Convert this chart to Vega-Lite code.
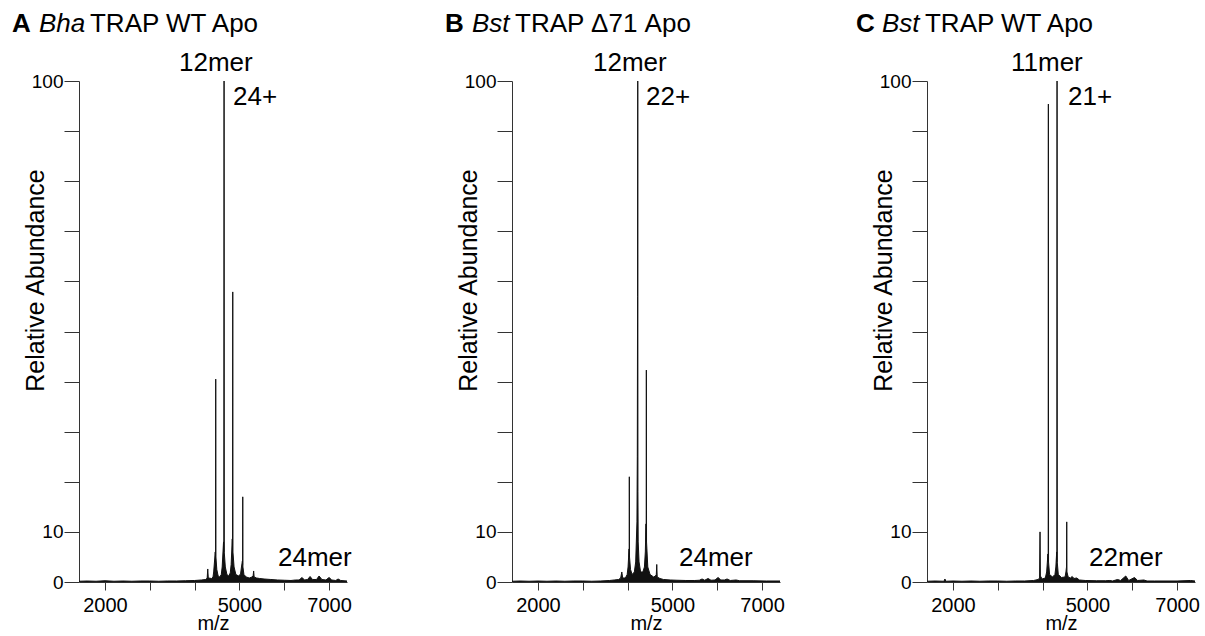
{
  "$schema": "https://vega.github.io/schema/vega-lite/v6.json",
  "background": "white",
  "padding": {"left": 12, "top": 10, "right": 5, "bottom": 0},
  "datasets": {
    "specA": [
      {"mz":1420,"ab":0.15},{"mz":1600,"ab":0.2},{"mz":1800,"ab":0.15},{"mz":2000,"ab":0.25},{"mz":2200,"ab":0.15},{"mz":2400,"ab":0.2},{"mz":2600,"ab":0.15},{"mz":2800,"ab":0.2},{"mz":3000,"ab":0.2},{"mz":3200,"ab":0.15},{"mz":3400,"ab":0.2},{"mz":3600,"ab":0.2},{"mz":3800,"ab":0.25},{"mz":4000,"ab":0.3},{"mz":4150,"ab":0.4},{"mz":4250,"ab":0.5},
      {"mz":4280,"ab":0.8},{"mz":4293,"ab":2.6},{"mz":4305,"ab":0.8},{"mz":4380,"ab":0.7},{"mz":4410,"ab":1.0},
      {"mz":4425,"ab":2},{"mz":4460,"ab":6},{"mz":4467,"ab":4.5},{"mz":4471,"ab":40.5},{"mz":4475,"ab":5},{"mz":4495,"ab":2.5},{"mz":4525,"ab":1.2},{"mz":4560,"ab":1.0},{"mz":4595,"ab":1.5},
      {"mz":4615,"ab":3},{"mz":4645,"ab":8},{"mz":4652,"ab":6},{"mz":4657,"ab":100},{"mz":4661,"ab":6},{"mz":4685,"ab":3},{"mz":4720,"ab":1.5},{"mz":4760,"ab":1.2},{"mz":4795,"ab":1.8},
      {"mz":4815,"ab":3.5},{"mz":4840,"ab":8.6},{"mz":4846,"ab":6},{"mz":4851,"ab":57.9},{"mz":4855,"ab":6},{"mz":4880,"ab":3},{"mz":4920,"ab":1.5},{"mz":4980,"ab":1.2},{"mz":5025,"ab":1.6},
      {"mz":5045,"ab":3},{"mz":5066,"ab":4.2},{"mz":5070,"ab":3.5},{"mz":5074,"ab":17},{"mz":5078,"ab":3},{"mz":5100,"ab":1.5},{"mz":5150,"ab":1},{"mz":5220,"ab":0.8},{"mz":5280,"ab":1.0},
      {"mz":5305,"ab":1.2},{"mz":5317,"ab":2.2},{"mz":5328,"ab":1},{"mz":5380,"ab":0.8},{"mz":5450,"ab":0.7},{"mz":5550,"ab":0.6},{"mz":5700,"ab":0.5},{"mz":5850,"ab":0.4},{"mz":6000,"ab":0.35},{"mz":6150,"ab":0.3},{"mz":6250,"ab":0.4},
      {"mz":6330,"ab":0.4},{"mz":6398,"ab":0.9},{"mz":6450,"ab":0.4},{"mz":6520,"ab":0.5},{"mz":6576,"ab":1.1},{"mz":6630,"ab":0.5},{"mz":6720,"ab":0.5},{"mz":6777,"ab":1.2},{"mz":6840,"ab":0.5},{"mz":6930,"ab":0.4},{"mz":7000,"ab":0.9},{"mz":7060,"ab":0.4},{"mz":7150,"ab":0.3},{"mz":7201,"ab":0.6},{"mz":7260,"ab":0.3},{"mz":7400,"ab":0.2}
    ],
    "specB": [
      {"mz":1420,"ab":0.15},{"mz":1600,"ab":0.2},{"mz":1800,"ab":0.15},{"mz":2000,"ab":0.2},{"mz":2200,"ab":0.15},{"mz":2400,"ab":0.2},{"mz":2600,"ab":0.15},{"mz":2800,"ab":0.2},{"mz":3000,"ab":0.2},{"mz":3200,"ab":0.15},{"mz":3400,"ab":0.2},{"mz":3600,"ab":0.3},{"mz":3700,"ab":0.4},{"mz":3800,"ab":0.5},
      {"mz":3845,"ab":0.8},{"mz":3870,"ab":2},{"mz":3890,"ab":0.8},{"mz":3950,"ab":0.8},{"mz":3990,"ab":1.5},
      {"mz":4010,"ab":3},{"mz":4032,"ab":6.6},{"mz":4035,"ab":5},{"mz":4038,"ab":21},{"mz":4042,"ab":5},{"mz":4065,"ab":2.5},{"mz":4100,"ab":1.5},{"mz":4150,"ab":2},
      {"mz":4180,"ab":4},{"mz":4208,"ab":12},{"mz":4216,"ab":25},{"mz":4222,"ab":57},{"mz":4226,"ab":100},{"mz":4230,"ab":18},{"mz":4236,"ab":8},{"mz":4255,"ab":4},{"mz":4290,"ab":2},{"mz":4340,"ab":2},{"mz":4375,"ab":3},
      {"mz":4395,"ab":6},{"mz":4410,"ab":11.6},{"mz":4414,"ab":8},{"mz":4418,"ab":42.3},{"mz":4422,"ab":8},{"mz":4430,"ab":6.6},{"mz":4450,"ab":3},{"mz":4500,"ab":1.5},{"mz":4580,"ab":1},{"mz":4620,"ab":1.2},
      {"mz":4640,"ab":1.5},{"mz":4650,"ab":3.5},{"mz":4660,"ab":1},{"mz":4720,"ab":0.7},{"mz":4800,"ab":0.5},{"mz":4950,"ab":0.4},{"mz":5100,"ab":0.35},{"mz":5300,"ab":0.3},{"mz":5500,"ab":0.3},
      {"mz":5600,"ab":0.35},{"mz":5661,"ab":0.6},{"mz":5720,"ab":0.35},{"mz":5795,"ab":0.7},{"mz":5860,"ab":0.35},{"mz":5950,"ab":0.4},{"mz":6018,"ab":0.9},{"mz":6080,"ab":0.4},{"mz":6160,"ab":0.4},{"mz":6219,"ab":0.6},{"mz":6290,"ab":0.3},{"mz":6420,"ab":0.4},{"mz":6500,"ab":0.25},{"mz":6800,"ab":0.25},{"mz":7100,"ab":0.2},{"mz":7400,"ab":0.2}
    ],
    "specC": [
      {"mz":1420,"ab":0.15},{"mz":1600,"ab":0.2},{"mz":1800,"ab":0.15},{"mz":1820,"ab":0.6},{"mz":1840,"ab":0.15},{"mz":2000,"ab":0.2},{"mz":2200,"ab":0.15},{"mz":2400,"ab":0.2},{"mz":2600,"ab":0.15},{"mz":2800,"ab":0.2},{"mz":3000,"ab":0.2},{"mz":3200,"ab":0.15},{"mz":3400,"ab":0.2},{"mz":3600,"ab":0.2},{"mz":3800,"ab":0.3},{"mz":3900,"ab":0.5},
      {"mz":3932,"ab":0.8},{"mz":3942,"ab":10},{"mz":3950,"ab":1.2},{"mz":3990,"ab":0.6},{"mz":4060,"ab":0.8},
      {"mz":4090,"ab":2},{"mz":4118,"ab":5.6},{"mz":4124,"ab":4},{"mz":4128,"ab":95.4},{"mz":4132,"ab":4},{"mz":4155,"ab":1.5},{"mz":4220,"ab":1.0},{"mz":4275,"ab":1.5},
      {"mz":4295,"ab":3},{"mz":4314,"ab":6},{"mz":4318,"ab":4},{"mz":4322,"ab":100},{"mz":4326,"ab":4},{"mz":4350,"ab":1.5},{"mz":4420,"ab":0.9},{"mz":4500,"ab":1},
      {"mz":4520,"ab":2},{"mz":4533,"ab":3},{"mz":4538,"ab":12},{"mz":4543,"ab":2},{"mz":4570,"ab":1},{"mz":4620,"ab":0.8},{"mz":4660,"ab":1.1},{"mz":4700,"ab":0.7},{"mz":4760,"ab":0.8},{"mz":4820,"ab":0.4},{"mz":4950,"ab":0.3},{"mz":5200,"ab":0.25},{"mz":5400,"ab":0.25},
      {"mz":5500,"ab":0.3},{"mz":5560,"ab":0.2},{"mz":5672,"ab":0.5},{"mz":5740,"ab":0.3},{"mz":5855,"ab":1.2},{"mz":5920,"ab":0.3},{"mz":6050,"ab":0.9},{"mz":6120,"ab":0.3},{"mz":6259,"ab":0.4},{"mz":6330,"ab":0.2},{"mz":6500,"ab":0.2},{"mz":7000,"ab":0.2},{"mz":7300,"ab":0.3},{"mz":7400,"ab":0.2}
    ],
    "labA": [
      {"mz":-75,"ab":109.8,"text":"A","role":"letter"},
      {"mz":527,"ab":109.8,"text":"Bha","role":"species"},
      {"mz":1665,"ab":109.8,"text":"TRAP WT Apo","role":"name"},
      {"mz":3651,"ab":102,"text":"12mer","role":"ion"},
      {"mz":4856,"ab":95.2,"text":"24+","role":"ion"},
      {"mz":5860,"ab":3.1,"text":"24mer","role":"ion"}
    ],
    "labB": [
      {"mz":-75,"ab":109.8,"text":"B","role":"letter"},
      {"mz":527,"ab":109.8,"text":"Bst","role":"species"},
      {"mz":1487,"ab":109.8,"text":"TRAP Δ71 Apo","role":"name"},
      {"mz":3227,"ab":102,"text":"12mer","role":"ion"},
      {"mz":4410,"ab":95.2,"text":"22+","role":"ion"},
      {"mz":5146,"ab":3.1,"text":"24mer","role":"ion"}
    ],
    "labC": [
      {"mz":-164,"ab":109.8,"text":"C","role":"letter"},
      {"mz":416,"ab":109.8,"text":"Bst","role":"species"},
      {"mz":1375,"ab":109.8,"text":"TRAP WT Apo","role":"name"},
      {"mz":3294,"ab":102,"text":"11mer","role":"ion"},
      {"mz":4566,"ab":95.2,"text":"21+","role":"ion"},
      {"mz":5035,"ab":3.1,"text":"22mer","role":"ion"}
    ]
  },
  "hconcat": [
    {
      "width": 268, "height": 501,
      "encoding": {
        "x": {"field": "mz", "type": "quantitative", "scale": {"domain": [1420, 7400], "nice": false, "zero": false},
          "axis": {"title": "m/z", "values": [2000,3000,4000,5000,6000,7000], "format": "d", "labelExpr": "datum.value == 2000 || datum.value == 5000 || datum.value == 7000 ? datum.label : ''", "tickSize": 8, "labelPadding": 5, "labelFontSize": 20, "titleFontSize": 20, "titleY": 47, "titleBaseline": "alphabetic"}},
        "y": {"field": "ab", "type": "quantitative", "scale": {"domain": [0, 100], "nice": false},
          "axis": {"title": "Relative Abundance", "values": [0,10,20,30,40,50,60,70,80,90,100], "labelExpr": "datum.value == 0 || datum.value == 10 || datum.value == 100 ? datum.label : ''", "tickSize": 15, "labelPadding": 1, "labelFontSize": 19, "titleFontSize": 25, "titleX": -44, "titleY": 199, "titleBaseline": "middle", "titleAngle": -90, "titleAlign": "center"}}
      },
      "layer": [
        {"data": {"name": "specA"}, "mark": {"type": "area", "color": "#111", "opacity": 1}},
        {"data": {"name": "specA"}, "mark": {"type": "line", "color": "#111", "strokeWidth": 1}},
        {"data": {"name": "labA"}, "transform": [{"filter": "datum.role == 'letter'"}], "mark": {"type": "text", "align": "left", "baseline": "alphabetic", "fontSize": 26, "fontWeight": "bold", "color": "#000"}, "encoding": {"text": {"field": "text"}}},
        {"data": {"name": "labA"}, "transform": [{"filter": "datum.role == 'species'"}], "mark": {"type": "text", "align": "left", "baseline": "alphabetic", "fontSize": 26, "fontStyle": "italic", "color": "#000"}, "encoding": {"text": {"field": "text"}}},
        {"data": {"name": "labA"}, "transform": [{"filter": "datum.role == 'name' || datum.role == 'ion'"}], "mark": {"type": "text", "align": "left", "baseline": "alphabetic", "fontSize": 26, "color": "#000"}, "encoding": {"text": {"field": "text"}}}
      ]
    },
    {
      "hconcat": [
        {
          "width": 268, "height": 501,
          "encoding": {
            "x": {"field": "mz", "type": "quantitative", "scale": {"domain": [1420, 7400], "nice": false, "zero": false},
              "axis": {"title": "m/z", "values": [2000,3000,4000,5000,6000,7000], "format": "d", "labelExpr": "datum.value == 2000 || datum.value == 5000 || datum.value == 7000 ? datum.label : ''", "tickSize": 8, "labelPadding": 5, "labelFontSize": 20, "titleFontSize": 20, "titleY": 47, "titleBaseline": "alphabetic"}},
            "y": {"field": "ab", "type": "quantitative", "scale": {"domain": [0, 100], "nice": false},
              "axis": {"title": "Relative Abundance", "values": [0,10,20,30,40,50,60,70,80,90,100], "labelExpr": "datum.value == 0 || datum.value == 10 || datum.value == 100 ? datum.label : ''", "tickSize": 15, "labelPadding": 1, "labelFontSize": 19, "titleFontSize": 25, "titleX": -44, "titleY": 199, "titleBaseline": "middle", "titleAngle": -90, "titleAlign": "center"}}
          },
          "layer": [
            {"data": {"name": "specB"}, "mark": {"type": "area", "color": "#111", "opacity": 1}},
            {"data": {"name": "specB"}, "mark": {"type": "line", "color": "#111", "strokeWidth": 1}},
            {"data": {"name": "labB"}, "transform": [{"filter": "datum.role == 'letter'"}], "mark": {"type": "text", "align": "left", "baseline": "alphabetic", "fontSize": 26, "fontWeight": "bold", "color": "#000"}, "encoding": {"text": {"field": "text"}}},
            {"data": {"name": "labB"}, "transform": [{"filter": "datum.role == 'species'"}], "mark": {"type": "text", "align": "left", "baseline": "alphabetic", "fontSize": 26, "fontStyle": "italic", "color": "#000"}, "encoding": {"text": {"field": "text"}}},
            {"data": {"name": "labB"}, "transform": [{"filter": "datum.role == 'name' || datum.role == 'ion'"}], "mark": {"type": "text", "align": "left", "baseline": "alphabetic", "fontSize": 26, "color": "#000"}, "encoding": {"text": {"field": "text"}}}
          ]
        },
        {
          "width": 268, "height": 501,
          "encoding": {
            "x": {"field": "mz", "type": "quantitative", "scale": {"domain": [1420, 7400], "nice": false, "zero": false},
              "axis": {"title": "m/z", "values": [2000,3000,4000,5000,6000,7000], "format": "d", "labelExpr": "datum.value == 2000 || datum.value == 5000 || datum.value == 7000 ? datum.label : ''", "tickSize": 8, "labelPadding": 5, "labelFontSize": 20, "titleFontSize": 20, "titleY": 47, "titleBaseline": "alphabetic"}},
            "y": {"field": "ab", "type": "quantitative", "scale": {"domain": [0, 100], "nice": false},
              "axis": {"title": "Relative Abundance", "values": [0,10,20,30,40,50,60,70,80,90,100], "labelExpr": "datum.value == 0 || datum.value == 10 || datum.value == 100 ? datum.label : ''", "tickSize": 15, "labelPadding": 1, "labelFontSize": 19, "titleFontSize": 25, "titleX": -44, "titleY": 199, "titleBaseline": "middle", "titleAngle": -90, "titleAlign": "center"}}
          },
          "layer": [
            {"data": {"name": "specC"}, "mark": {"type": "area", "color": "#111", "opacity": 1}},
            {"data": {"name": "specC"}, "mark": {"type": "line", "color": "#111", "strokeWidth": 1}},
            {"data": {"name": "labC"}, "transform": [{"filter": "datum.role == 'letter'"}], "mark": {"type": "text", "align": "left", "baseline": "alphabetic", "fontSize": 26, "fontWeight": "bold", "color": "#000"}, "encoding": {"text": {"field": "text"}}},
            {"data": {"name": "labC"}, "transform": [{"filter": "datum.role == 'species'"}], "mark": {"type": "text", "align": "left", "baseline": "alphabetic", "fontSize": 26, "fontStyle": "italic", "color": "#000"}, "encoding": {"text": {"field": "text"}}},
            {"data": {"name": "labC"}, "transform": [{"filter": "datum.role == 'name' || datum.role == 'ion'"}], "mark": {"type": "text", "align": "left", "baseline": "alphabetic", "fontSize": 26, "color": "#000"}, "encoding": {"text": {"field": "text"}}}
          ]
        }
      ],
      "spacing": 147,
      "bounds": "flush"
    }
  ],
  "spacing": 165,
  "bounds": "flush",
  "config": {
    "font": "Liberation Sans",
    "view": {"stroke": null},
    "axis": {"labelFont": "Liberation Sans", "titleFont": "Liberation Sans", "grid": false, "domainColor": "#333", "tickColor": "#333", "labelColor": "#000", "titleColor": "#000", "titleFontWeight": "normal", "labelFlush": false, "labelOverlap": false}
  }
}
